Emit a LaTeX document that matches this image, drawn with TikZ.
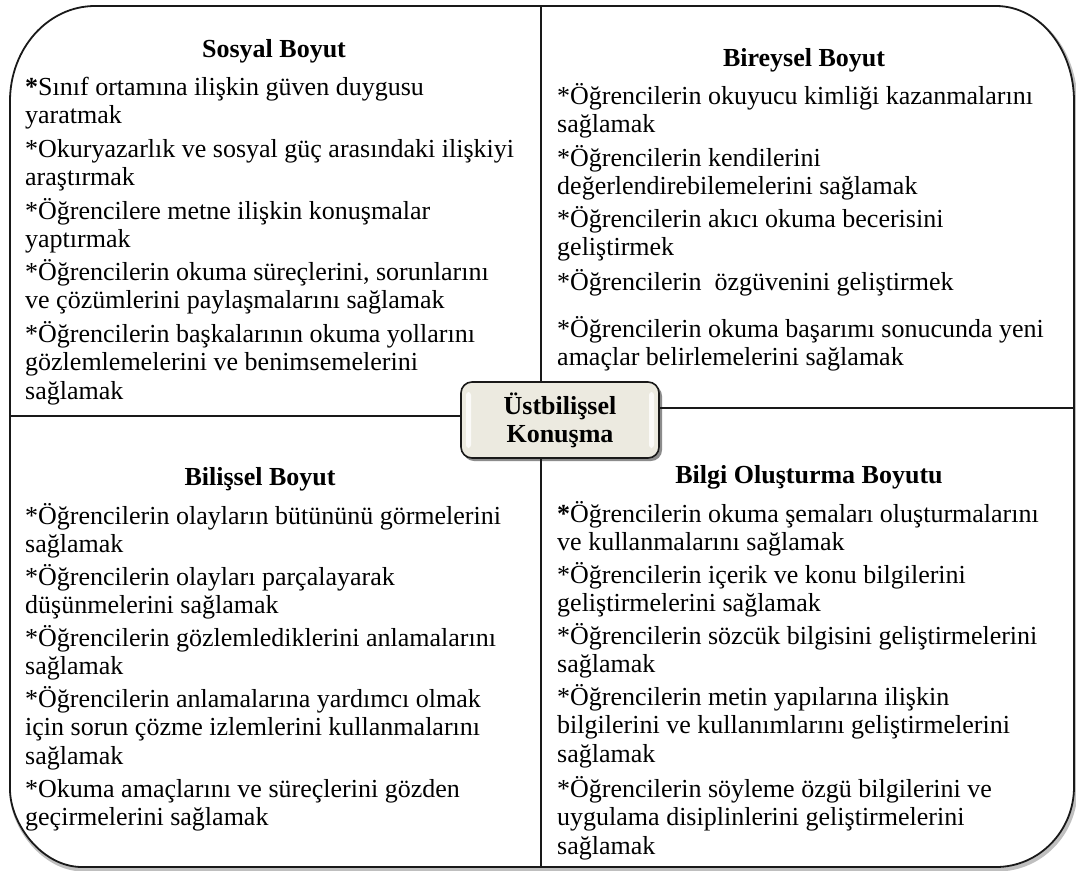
\documentclass[tikz,border=0pt]{standalone}
\usepackage{fontspec}
\setmainfont{Liberation Serif}
\usetikzlibrary{calc}

% stacked lines, baseline of the box = baseline of the first line
\newcommand\itemlines[1]{\vtop{\baselineskip=28.5pt\lineskiplimit=-100pt\halign{##\hfil\cr#1\crcr}}}

\tikzset{
  body/.style={font=\fontsize{26}{28.5}\selectfont, inner sep=0pt, anchor=base west},
  head/.style={font=\bfseries\fontsize{26}{28.5}\selectfont, inner sep=0pt, anchor=base},
  divider/.style={line width=1.6pt, black!90},
  frame/.style={line width=1.8pt, black!90},
  corebox/.style={draw=black!90, line width=1.6pt, rounded corners=11pt, fill=corefill,
    minimum width=198pt, minimum height=76pt, align=center, inner sep=0pt,
    font=\bfseries\fontsize{26}{28}\selectfont}
}
\definecolor{corefill}{HTML}{ECEAE0}

\begin{document}
\begin{tikzpicture}[x=1pt,y=-1pt]
\useasboundingbox (0,0) rectangle (1076,870);

% outer frame: soft shadow, then the outline
\def\framepath{(10,101) .. controls (10,48.5) and (48,6) .. (95,6) -- (996,6)
  .. controls (1039,6) and (1074,48.5) .. (1074,101) -- (1074,787)
  .. controls (1074,831) and (1039,867) .. (996,867) -- (82,867)
  .. controls (42,867) and (10,824) .. (10,789) -- cycle}
\draw[line width=4pt, black!25, shift={(1.5,2.5)}] \framepath;
\draw[frame, fill=white] \framepath;

\coordinate (top) at (541,6);
\coordinate (bottom) at (541,867);
\coordinate (left) at (10,416);
\coordinate (right) at (1074,408);

% centre box
\fill[black!45, rounded corners=11pt] (463,385) rectangle (662,461);
\node[corebox] (core) at (560,420) {Üstbilişsel\\Konuşma};
\fill[white, opacity=0.8, rounded corners=3pt] (466,392) rectangle (471,448);
\fill[white, opacity=0.8, rounded corners=3pt] (649,392) rectangle (654,448);

% dividers
\draw[divider] (top) -- (core.north -| top);
\draw[divider] (core.south -| bottom) -- (bottom);
\draw[divider] (left) -- (core.west |- left);
\draw[divider] (core.east |- right) -- (right);

% top left
\node[head] (h1) at (274,57) {Sosyal Boyut};
\node[body] (a1) at (25,95) {\itemlines{\textbf{*}Sınıf ortamına ilişkin güven duygusu\cr yaratmak}};
\node[body] (a2) at (25,157) {\itemlines{*Okuryazarlık ve sosyal güç arasındaki ilişkiyi\cr araştırmak}};
\node[body] (a3) at (25,219) {\itemlines{*Öğrencilere metne ilişkin konuşmalar\cr yaptırmak}};
\node[body] (a4) at (25,280) {\itemlines{*Öğrencilerin okuma süreçlerini, sorunlarını\cr ve çözümlerini paylaşmalarını sağlamak}};
\node[body] (a5) at (25,342) {\itemlines{*Öğrencilerin başkalarının okuma yollarını\cr gözlemlemelerini ve benimsemelerini\cr sağlamak}};

% top right
\node[head] (h2) at (804,66) {Bireysel Boyut};
\node[body] (b1) at (557,104) {\itemlines{*Öğrencilerin okuyucu kimliği kazanmalarını\cr sağlamak}};
\node[body] (b2) at (557,166) {\itemlines{*Öğrencilerin kendilerini\cr değerlendirebilemelerini sağlamak}};
\node[body] (b3) at (557,227) {\itemlines{*Öğrencilerin akıcı okuma becerisini\cr geliştirmek}};
\node[body] (b4) at (557,290) {*Öğrencilerin\ \ özgüvenini geliştirmek};
\node[body] (b5) at (557,337) {\itemlines{*Öğrencilerin okuma başarımı sonucunda yeni\cr amaçlar belirlemelerini sağlamak}};

% bottom left
\node[head] (h3) at (260,485) {Bilişsel Boyut};
\node[body] (c1) at (25,524) {\itemlines{*Öğrencilerin olayların bütününü görmelerini\cr sağlamak}};
\node[body] (c2) at (25,585) {\itemlines{*Öğrencilerin olayları parçalayarak\cr düşünmelerini sağlamak}};
\node[body] (c3) at (25,646) {\itemlines{*Öğrencilerin gözlemlediklerini anlamalarını\cr sağlamak}};
\node[body] (c4) at (25,707) {\itemlines{*Öğrencilerin anlamalarına yardımcı olmak\cr için sorun çözme izlemlerini kullanmalarını\cr sağlamak}};
\node[body] (c5) at (25,797) {\itemlines{*Okuma amaçlarını ve süreçlerini gözden\cr geçirmelerini sağlamak}};

% bottom right
\node[head] (h4) at (809,483) {Bilgi Oluşturma Boyutu};
\node[body] (d1) at (557,522) {\itemlines{\textbf{*}Öğrencilerin okuma şemaları oluşturmalarını\cr ve kullanmalarını sağlamak}};
\node[body] (d2) at (557,583) {\itemlines{*Öğrencilerin içerik ve konu bilgilerini\cr geliştirmelerini sağlamak}};
\node[body] (d3) at (557,644) {\itemlines{*Öğrencilerin sözcük bilgisini geliştirmelerini\cr sağlamak}};
\node[body] (d4) at (557,705) {\itemlines{*Öğrencilerin metin yapılarına ilişkin\cr bilgilerini ve kullanımlarını geliştirmelerini\cr sağlamak}};
\node[body] (d5) at (557,797) {\itemlines{*Öğrencilerin söyleme özgü bilgilerini ve\cr uygulama disiplinlerini geliştirmelerini\cr sağlamak}};
\end{tikzpicture}
\end{document}
